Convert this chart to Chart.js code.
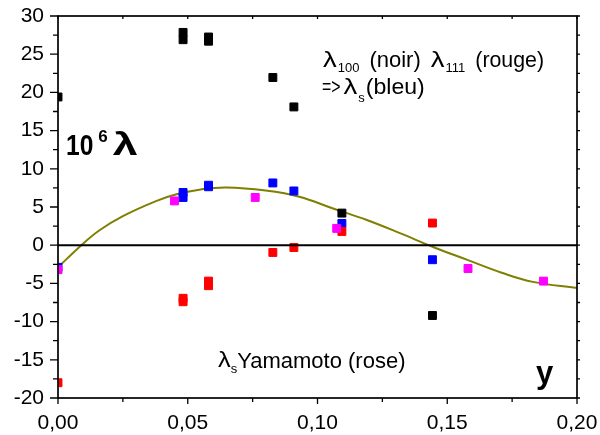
<!DOCTYPE html>
<html><head><meta charset="utf-8">
<script src="https://cdn.jsdelivr.net/npm/chart.js@4"></script>
<style>html,body{margin:0;padding:0;background:#fff;} #wrap{width:600px;height:435px;position:relative;}</style>
</head><body><div id="wrap"><canvas id="c" width="600" height="435"></canvas></div>
<script>
// ---- data ----
const xTicks = [0, 0.05, 0.10, 0.15, 0.20];
const yTicks = [-20, -15, -10, -5, 0, 5, 10, 15, 20, 25, 30];

const blackX = [0, 0.0482, 0.0482, 0.058, 0.058, 0.0828, 0.0909, 0.1094, 0.1443];
const blackY = [19.4, 27.85, 26.9, 27.25, 26.7, 21.95, 18.1, 4.2, -9.2];

const redX = [0, 0.0482, 0.0482, 0.058, 0.058, 0.0828, 0.0909, 0.1094, 0.1443];
const redY = [-18.0, -6.95, -7.4, -4.7, -5.3, -0.95, -0.3, 1.8, 2.9];

const blueX = [0, 0.0482, 0.0482, 0.058, 0.058, 0.0828, 0.0909, 0.1094, 0.1443];
const blueY = [-2.9, 6.9, 6.25, 7.85, 7.65, 8.15, 7.1, 2.85, -1.9];

const pinkX = [0, 0.0449, 0.076, 0.1074, 0.158, 0.1871];
const pinkY = [-3.2, 5.8, 6.25, 2.2, -3.05, -4.7];

const curveX = [0, 0.009, 0.016, 0.025, 0.038, 0.046, 0.055, 0.065, 0.08, 0.093, 0.106, 0.119, 0.132, 0.145, 0.158, 0.171, 0.183, 0.2];
const curveY = [-2.9, 0, 1.95, 3.8, 5.8, 6.7, 7.3, 7.55, 7.15, 6.35, 4.8, 3.3, 1.55, -0.3, -1.95, -3.6, -4.8, -5.6];

const FONT = '"Liberation Sans", Arial, sans-serif';
const pts = (xs, ys) => xs.map((x, i) => ({x: x, y: ys[i]}));

function pointSet(label, xs, ys, color, order) {
  return {
    label: label, data: pts(xs, ys), showLine: false,
    pointStyle: 'rect', pointRadius: 5.6, pointHoverRadius: 5.6,
    backgroundColor: color, borderColor: color, borderWidth: 1,
    order: order, clip: 0
  };
}

// draw a run of text pieces: [text, fontSize, dy, scaleX, gapAfter, bold]
function flow(ctx, x, y, pieces) {
  for (const p of pieces) {
    const [t, size, dy, sx, gap, bold] = p;
    ctx.font = (bold ? 'bold ' : '') + size + 'px ' + FONT;
    const w = ctx.measureText(t).width * (sx || 1);
    ctx.save();
    ctx.translate(x, y + (dy || 0));
    ctx.scale(sx || 1, 1);
    ctx.fillText(t, 0, 0);
    ctx.restore();
    x += w + (gap || 0);
  }
}

const framePlugin = {
  id: 'frame',
  afterDatasetsDraw(chart) {
    const ctx = chart.ctx, a = chart.chartArea;
    const xs = chart.scales.x, ys = chart.scales.y;
    ctx.save();
    ctx.strokeStyle = '#000';
    ctx.lineWidth = 2;
    const y0 = ys.getPixelForValue(0);
    ctx.beginPath(); ctx.moveTo(a.left, y0); ctx.lineTo(a.right, y0); ctx.stroke();
    ctx.lineWidth = 1.7;
    ctx.strokeRect(a.left, a.top, a.right - a.left, a.bottom - a.top);
    ctx.lineWidth = 1.3;
    ctx.beginPath();
    for (let v = -20; v <= 30.001; v += 2.5) {
      const p = ys.getPixelForValue(v);
      const major = Math.abs(v % 5) < 1e-6;
      ctx.moveTo(a.left, p); ctx.lineTo(a.left - (major ? 8 : 5), p);
      ctx.moveTo(a.right, p); ctx.lineTo(a.right + 3, p);
    }
    for (let i = 0; i <= 8; i++) {
      const p = xs.getPixelForValue(i * 0.025);
      const major = i % 2 === 0;
      ctx.moveTo(p, a.bottom); ctx.lineTo(p, a.bottom + (major ? 6 : 4));
      ctx.moveTo(p, a.top); ctx.lineTo(p, a.top + 3);
    }
    ctx.stroke();
    ctx.restore();
  },
  afterDraw(chart) {
    const ctx = chart.ctx;
    ctx.save();
    ctx.fillStyle = '#000';
    ctx.textBaseline = 'alphabetic';
    ctx.textAlign = 'left';
    const L = '\u03bb';
    flow(ctx, 323, 67, [
      [L, 22, 0, 1.25, 1], ['100', 13, 5, 1, 10],
      ['(noir)', 22, 0, 1, 10],
      [L, 22, 0, 1.25, 1], ['111', 13, 5, 1, 10],
      ['(rouge)', 22, 0, 0.97, 0]
    ]);
    flow(ctx, 322, 94, [
      ['=>', 22, 0, 0.72, 3],
      [L, 22, 0, 1.25, 1], ['s', 13, 8, 1, 1],
      ['(bleu)', 22, 0, 1.05, 0]
    ]);
    flow(ctx, 218, 367, [
      [L, 22, 0, 1.15, 0], ['s', 13, 6, 1, 0],
      ['Yamamoto (rose)', 22, 1, 1, 0]
    ]);
    flow(ctx, 66, 155, [
      ['10', 30, 0, 0.82, 5, true],
      ['6', 17, -13, 1, 5, true],
      [L, 32, 0, 1.4, 0, true]
    ]);
    flow(ctx, 536, 383, [['y', 31, 0, 1, 0, true]]);
    ctx.restore();
  }
};

new Chart(document.getElementById('c'), {
  type: 'scatter',
  data: {
    datasets: [
      {
        label: 'fit', data: pts(curveX, curveY), showLine: true,
        borderColor: '#7f7f00', borderWidth: 2, pointRadius: 0, pointHoverRadius: 0,
        tension: 0.4, fill: false, order: 5, clip: 0
      },
      pointSet('noir', blackX, blackY, '#000000', 4),
      pointSet('bleu', blueX, blueY, '#0000ff', 3),
      pointSet('rouge', redX, redY, '#ff0000', 2),
      pointSet('rose', pinkX, pinkY, '#ff00ff', 1)
    ]
  },
  options: {
    responsive: false, animation: false, devicePixelRatio: 1,
    layout: {padding: {left: 0, top: 16, right: 23, bottom: 0}},
    plugins: {legend: {display: false}, tooltip: {enabled: false}},
    scales: {
      x: {
        type: 'linear', min: 0, max: 0.2,
        afterBuildTicks: s => { s.ticks = xTicks.map(v => ({value: v})); },
        afterFit: s => { s.height = 37; s.paddingLeft = 0; s.paddingRight = 0; },
        grid: {display: true, drawOnChartArea: false, drawTicks: true, tickLength: 6, color: 'rgba(0,0,0,0)'},
        border: {display: false},
        ticks: {
          color: '#000', padding: 7, maxRotation: 0, autoSkip: false,
          font: {family: FONT, size: 21},
          callback: v => v.toFixed(2).replace('.', ',')
        }
      },
      y: {
        type: 'linear', min: -20, max: 30,
        afterBuildTicks: s => { s.ticks = yTicks.map(v => ({value: v})); },
        afterFit: s => { s.width = 58; s.paddingTop = 0; s.paddingBottom = 0; },
        grid: {display: true, drawOnChartArea: false, drawTicks: true, tickLength: 8, color: 'rgba(0,0,0,0)'},
        border: {display: false},
        ticks: {
          color: '#000', padding: 6, autoSkip: false,
          font: {family: FONT, size: 21},
          callback: v => String(v)
        }
      }
    }
  },
  plugins: [framePlugin]
});
</script>
</body></html>
